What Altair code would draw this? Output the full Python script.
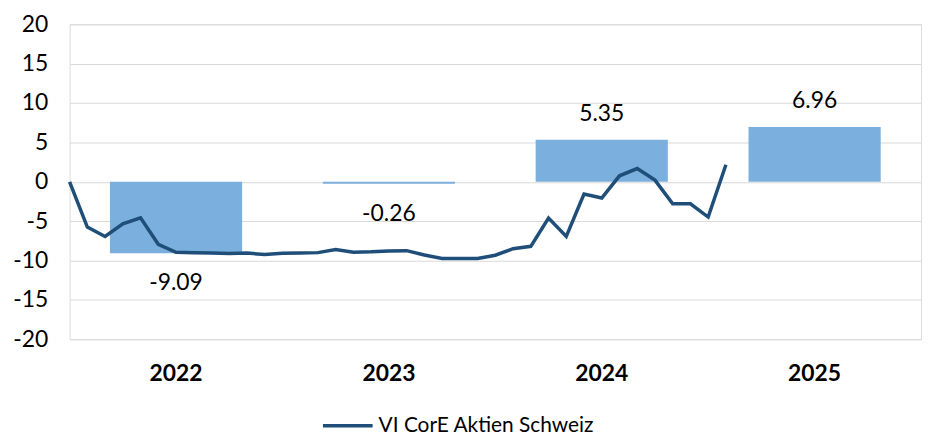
import altair as alt
import pandas as pd

years = ["2022", "2023", "2024", "2025"]
annual = [-9.09, -0.26, 5.35, 6.96]
months = list(range(38))
perf = [0.0, -5.76, -6.94, -5.34, -4.58, -7.94, -8.95, -9.0, -9.05, -9.1, -9.05, -9.25, -9.09,
        -9.04, -9.0, -8.6, -8.95, -8.9, -8.8, -8.75, -9.3, -9.75, -9.75, -9.75, -9.33,
        -8.5, -8.2, -4.6, -6.94, -1.56, -2.06, 0.76, 1.68, 0.21, -2.8, -2.8, -4.48, 2.17]
series_name = "VI CorE Aktien Schweiz"
y_ticks = [-20, -15, -10, -5, 0, 5, 10, 15, 20]
year_bounds = [12, 24, 36]

bars_df = pd.DataFrame({"year": years, "ret": annual, "label": [f"{v:.2f}" for v in annual]})
line_df = pd.DataFrame({"m": months, "v": perf, "s": [series_name] * len(months)})

FONT = "Lato"
GRID = "#d9d9d9"
yscale = alt.Scale(domain=[-20, 20], nice=False)
yaxis = alt.Axis(title=None, values=y_ticks, labelFont=FONT, labelFontSize=23,
                 labelColor="black", ticks=False, domain=False, labelPadding=22,
                 gridColor=GRID, labelExpr="toString(datum.value)")

xband = alt.X(
    "year:N", sort=years,
    scale=alt.Scale(paddingInner=0.379, paddingOuter=0.1895),
    axis=alt.Axis(title=None, labelAngle=0, labelFont=FONT, labelFontSize=23,
                  labelFontWeight="bold", labelColor="black", ticks=False,
                  domain=False, labelPadding=24, grid=False),
)

bars = alt.Chart(bars_df).mark_bar(color="#7BAFDE").encode(
    x=xband,
    y=alt.Y("ret:Q", scale=yscale, axis=yaxis),
)

txt_neg = alt.Chart(bars_df).transform_filter("datum.ret < 0").mark_text(
    dy=30, font=FONT, fontSize=23, color="black", baseline="middle"
).encode(x=xband, y=alt.Y("ret:Q", scale=yscale, axis=yaxis), text="label:N")

txt_pos = alt.Chart(bars_df).transform_filter("datum.ret >= 0").mark_text(
    dy=-26, font=FONT, fontSize=23, color="black", baseline="middle"
).encode(x=xband, y=alt.Y("ret:Q", scale=yscale, axis=yaxis), text="label:N")

bar_group = alt.layer(bars, txt_neg, txt_pos)

line = alt.Chart(line_df).mark_line(strokeWidth=3.5).encode(
    x=alt.X("m:Q", scale=alt.Scale(domain=[0, 48], nice=False),
            axis=alt.Axis(orient="top", values=year_bounds, labels=False, ticks=False,
                          domain=False, title=None, gridColor=GRID)),
    y=alt.Y("v:Q", scale=yscale, axis=yaxis),
    color=alt.Color("s:N", scale=alt.Scale(domain=[series_name], range=["#1F4E79"]),
                    legend=alt.Legend(title=None, orient="none", legendX=253, legendY=377,
                                      symbolType="stroke", symbolSize=2500,
                                      symbolStrokeWidth=3.5, labelFont=FONT,
                                      labelFontSize=21, labelColor="black", labelOffset=4,
                                      labelLimit=500)),
)

chart = alt.layer(bar_group, line).resolve_scale(x="independent").properties(
    width=857, height=317,
    autosize=alt.AutoSizeParams(type="none"),
    padding={"left": 62, "top": 15, "right": 5, "bottom": 100},
).configure_view(stroke="#bfbfbf").configure(background="white")

chart.save("out.html", embed_options={"renderer": "svg", "actions": False})
